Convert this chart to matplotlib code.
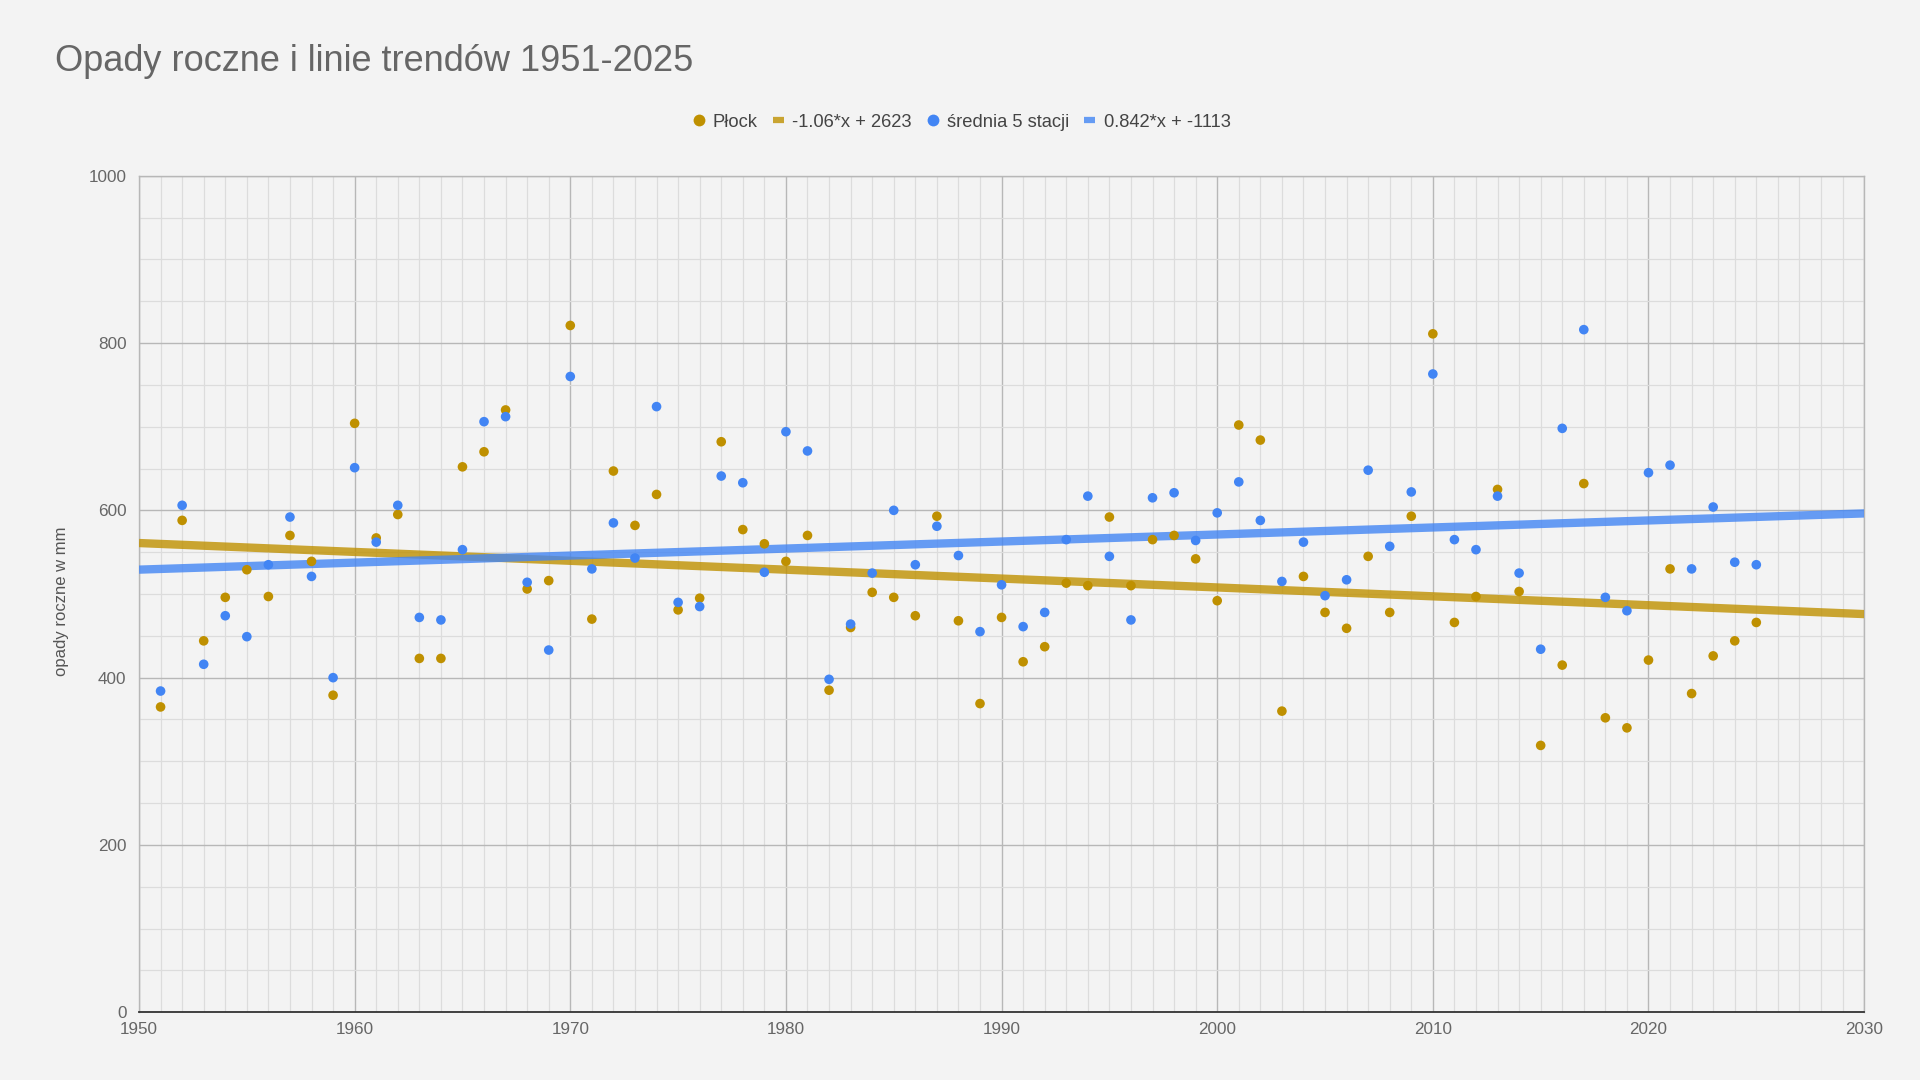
import matplotlib
matplotlib.use("Agg")
import matplotlib.pyplot as plt
from matplotlib.lines import Line2D
from matplotlib.ticker import MultipleLocator
import numpy as np

# roczne sumy opadow (mm)
years = list(range(1951, 2026))
plock = [365, 588, 444, 496, 529, 497, 570, 539, 379, 704,
         567, 595, 423, 423, 652, 670, 720, 506, 516, 821,
         470, 647, 582, 619, 481, 495, 682, 577, 560, 539,
         570, 385, 460, 502, 496, 474, 593, 468, 369, 472,
         419, 437, 513, 510, 592, 510, 565, 570, 542, 492,
         702, 684, 360, 521, 478, 459, 545, 478, 593, 811,
         466, 497, 625, 503, 319, 415, 632, 352, 340, 421,
         530, 381, 426, 444, 466]
srednia = [384, 606, 416, 474, 449, 535, 592, 521, 400, 651,
           562, 606, 472, 469, 553, 706, 712, 514, 433, 760,
           530, 585, 543, 724, 490, 485, 641, 633, 526, 694,
           671, 398, 464, 525, 600, 535, 581, 546, 455, 511,
           461, 478, 565, 617, 545, 469, 615, 621, 564, 597,
           634, 588, 515, 562, 498, 517, 648, 557, 622, 763,
           565, 553, 617, 525, 434, 698, 816, 496, 480, 645,
           654, 530, 604, 538, 535]
series_names = ["Płock", "-1.06*x + 2623", "średnia 5 stacji", "0.842*x + -1113"]

GOLD = "#bf9000"
BLUE = "#4285f4"
BG = "#f3f3f3"

plt.rcParams['font.family'] = ["Liberation Sans", "DejaVu Sans"]

fig = plt.figure(figsize=(19.2, 10.8), dpi=100, facecolor=BG)
ax = fig.add_axes([0.0724, 0.0627, 0.8985, 0.7746])
ax.set_facecolor(BG)

x_min, x_max = 1950, 2030
ax.set_xlim(x_min, x_max)
ax.set_ylim(0, 1000)

# linie trendu (najmniejsze kwadraty)
xs = np.array([x_min, x_max])
p1 = np.polyfit(years, plock, 1)
p2 = np.polyfit(years, srednia, 1)
ax.plot(xs, np.polyval(p1, xs), color=GOLD, alpha=0.8, lw=6, solid_capstyle='butt', zorder=3)
ax.plot(xs, np.polyval(p2, xs), color=BLUE, alpha=0.8, lw=6, solid_capstyle='butt', zorder=3)

ax.scatter(years, plock, s=48, color=GOLD, edgecolors='none', zorder=4)
ax.scatter(years, srednia, s=48, color=BLUE, edgecolors='none', zorder=5)

# siatka
ax.xaxis.set_major_locator(MultipleLocator(10))
ax.xaxis.set_minor_locator(MultipleLocator(1))
ax.yaxis.set_major_locator(MultipleLocator(200))
ax.yaxis.set_minor_locator(MultipleLocator(50))
ax.grid(which='major', color='#b7b7b7', lw=1.0, zorder=0)
ax.grid(which='minor', color='#dcdcdc', lw=0.9, zorder=0)
ax.set_axisbelow(True)

for side in ['left', 'top', 'right']:
    ax.spines[side].set_color('#b7b7b7')
    ax.spines[side].set_linewidth(1.0)
ax.spines['bottom'].set_color('#333333')
ax.spines['bottom'].set_linewidth(1.3)

ax.tick_params(which='both', length=0, labelsize=12.3, labelcolor='#666666')
ax.tick_params(axis='x', pad=7)
ax.tick_params(axis='y', pad=9)

fig.text(0.0286, 0.934, "Opady roczne i linie trendów 1951-2025", fontsize=26,
         color='#666666', va='baseline', ha='left')
fig.text(0.032, 0.443, "opady roczne w mm", fontsize=12, color='#555555',
         rotation=90, va='center', ha='center')

handles = [
    Line2D([], [], ls='none', marker='o', ms=8.5, color=GOLD, mec='none'),
    Line2D([], [], color=GOLD, alpha=0.8, lw=4.5, solid_capstyle='butt'),
    Line2D([], [], ls='none', marker='o', ms=8.5, color=BLUE, mec='none'),
    Line2D([], [], color=BLUE, alpha=0.8, lw=4.5, solid_capstyle='butt'),
]
fig.legend(handles, series_names, loc='center', bbox_to_anchor=(0.501, 0.887), ncol=4,
           frameon=False, fontsize=13.2, labelcolor='#444444', handlelength=0.6,
           handletextpad=0.45, columnspacing=0.85)

fig.savefig("out.png", dpi=100, facecolor=BG)
